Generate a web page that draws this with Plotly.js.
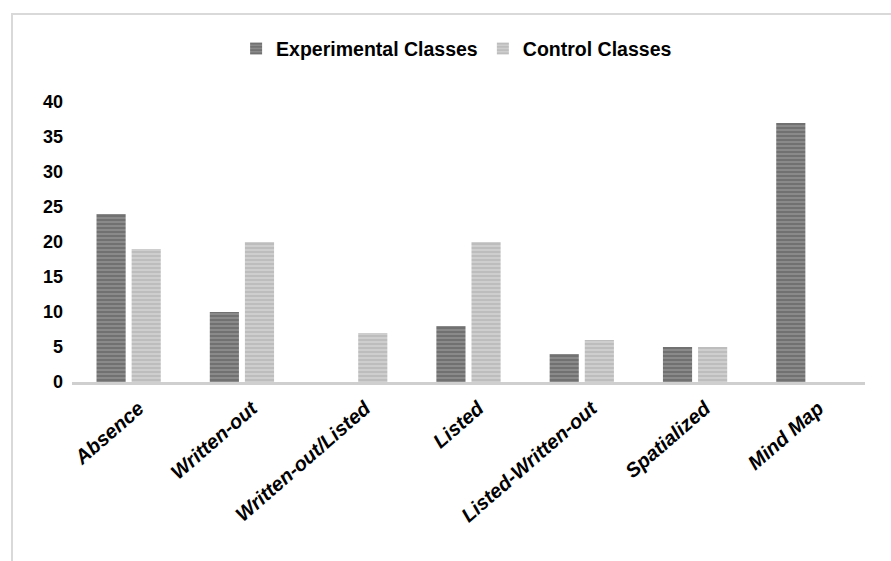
<!DOCTYPE html>
<html>
<head>
<meta charset="utf-8">
<script src="https://cdn.plot.ly/plotly-3.0.1.min.js"></script>
<style>
  html, body { margin: 0; padding: 0; background: #fff; overflow: hidden; }
  #wrap { position: relative; width: 891px; height: 561px; overflow: hidden; }
  #frame { position: absolute; left: 11px; top: 13px; width: 1000px; height: 1000px;
           border: 2px solid #d9d9d9; box-sizing: border-box; pointer-events: none; }
  #chart { position: absolute; left: 0; top: 0; width: 891px; height: 561px; }
</style>
</head>
<body>
<div id="wrap">
  <div id="chart"></div>
  <div id="frame"></div>
</div>
<script>
const categories = ["Absence", "Written-out", "Written-out/Listed", "Listed", "Listed-Written-out", "Spatialized", "Mind Map"];
const experimentalValues = [24, 10, 0, 8, 4, 5, 37];
const controlValues = [19, 20, 7, 20, 6, 5, 0];
const seriesNames = ["Experimental Classes", "Control Classes"];
const yTicks = [0, 5, 10, 15, 20, 25, 30, 35, 40];

const traces = [
  {
    type: "bar", name: seriesNames[0], x: categories, y: experimentalValues,
    marker: {
      color: "#858585",
      line: { width: 0 },
      pattern: { shape: "-", fgcolor: "#666666", bgcolor: "#8a8a8a", size: 4, solidity: 0.35 }
    },
    hoverinfo: "x+y"
  },
  {
    type: "bar", name: seriesNames[1], x: categories, y: controlValues,
    marker: {
      color: "#c8c8c8",
      line: { width: 0 },
      pattern: { shape: "-", fgcolor: "#b6b6b6", bgcolor: "#cecece", size: 4, solidity: 0.35 }
    },
    hoverinfo: "x+y"
  }
];

const layout = {
  width: 891, height: 561,
  margin: { l: 72, r: 26, t: 102, b: 179, pad: 0 },
  paper_bgcolor: "rgba(0,0,0,0)",
  plot_bgcolor: "rgba(0,0,0,0)",
  font: { family: "Liberation Sans, Arial, sans-serif", color: "#000" },
  barmode: "group",
  bargap: 0.38,
  bargroupgap: 0.17,
  showlegend: true,
  legend: {
    orientation: "h",
    x: 0.485, xanchor: "center",
    yref: "container", y: 0.913, yanchor: "middle",
    font: { size: 19.5, family: "Liberation Sans, Arial, sans-serif", weight: "bold", color: "#000" },
    itemwidth: 30,
    traceorder: "normal"
  },
  xaxis: {
    type: "category",
    showline: true, linecolor: "#cfcfcf", linewidth: 3,
    showgrid: false, zeroline: false, ticks: "",
    tickangle: -41,
    ticklabelshift: 10,
    ticklabelstandoff: 4,
    tickfont: { size: 20, family: "Liberation Sans, Arial, sans-serif", weight: "bold", style: "italic", color: "#000" }
  },
  yaxis: {
    range: [0, 40],
    tickvals: yTicks,
    showgrid: false, zeroline: false, showline: false, ticks: "",
    ticklabelstandoff: 8,
    tickfont: { size: 18, family: "Liberation Sans, Arial, sans-serif", weight: "bold", color: "#000" }
  }
};

Plotly.newPlot("chart", traces, layout, { staticPlot: true, displayModeBar: false });
</script>
</body>
</html>
